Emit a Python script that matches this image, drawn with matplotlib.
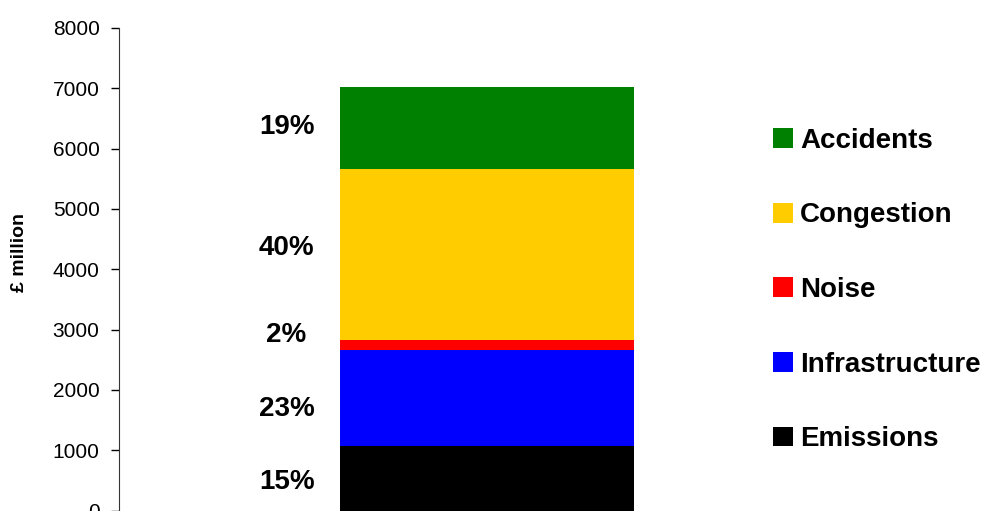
import matplotlib as mpl
mpl.use('Agg')
from matplotlib import pyplot as plt
import numpy as np

# stacked from the bottom up
cats = ["Emissions", "Infrastructure", "Noise", "Congestion", "Accidents"]
vals = [1070, 1590, 165, 2840, 1360]
colors = ["#000000", "#0000ff", "#ff0000", "#ffcc00", "#008000"]
yticks = [0, 1000, 2000, 3000, 4000, 5000, 6000, 7000, 8000]

plt.rcParams['font.family'] = ['Liberation Sans', 'DejaVu Sans']

fig = plt.figure(figsize=(9.85, 5.11), dpi=100)
ax = fig.add_axes([119/985, 0.4/511, 735/985, 482.6/511])

total = float(sum(vals))
bottoms = np.cumsum([0] + vals[:-1])
handles = []
for c, v, b, col in zip(cats, vals, bottoms, colors):
    h = ax.bar(0, v, bottom=b, width=0.4, color=col, label=c, linewidth=0)
    handles.append(h)

# percentage labels to the left of the bar, nudged a bit like the original
nudge = [-2.5, -7.5, 7.5, 4.5, 0.5]
for v, b, dy in zip(vals, bottoms, nudge):
    ax.annotate("%d%%" % round(100*v/total), xy=(-0.272, b + v/2.0),
                xytext=(0, dy), textcoords='offset points',
                ha='center', va='center', fontsize=20, fontweight='bold')

ax.set_xlim(-0.5, 0.5)
ax.set_ylim(0, 8000)
ax.set_yticks(yticks)
ax.set_xticks([])
ax.tick_params(axis='y', direction='out', length=6, width=1, pad=8, labelsize=15)
ax.spines['top'].set_visible(False)
ax.spines['right'].set_visible(False)
ax.spines['bottom'].set_visible(False)
ax.spines['left'].set_color('#333333')

fig.text(19/985, 1-252/511, u"\u00a3 million", rotation=90, ha='center', va='center',
         fontsize=14, fontweight='bold')

fig.legend(handles[::-1], cats[::-1], loc='center left',
           bbox_to_anchor=(773/985, 1-290/511), frameon=False,
           prop={'size': 20, 'weight': 'bold'}, handlelength=0.72, handleheight=0.72,
           handletextpad=0.25, labelspacing=1.75, borderpad=0, borderaxespad=0)

fig.savefig('out.png', dpi=100)
